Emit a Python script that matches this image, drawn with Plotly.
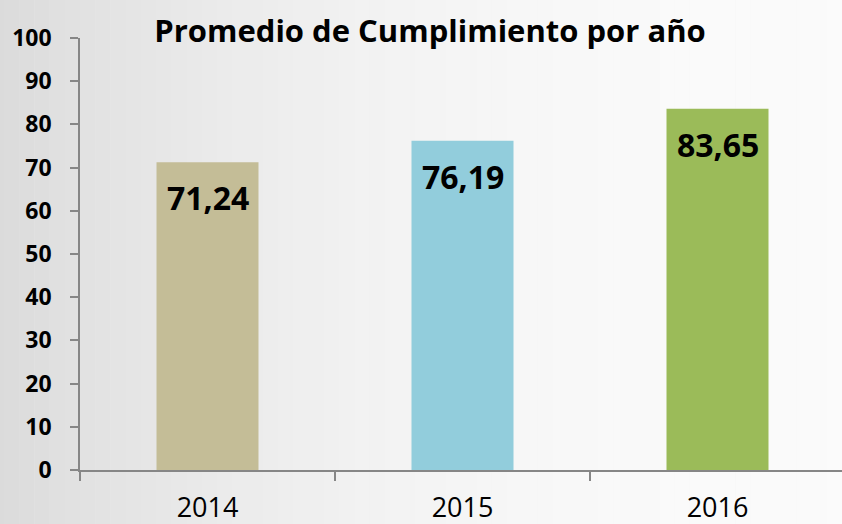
import plotly.graph_objects as go

years = ['2014', '2015', '2016']
values = [71.24, 76.19, 83.65]
bar_colors = ['#c4bd97', '#92cddc', '#9bbb59']
y_ticks = [0, 10, 20, 30, 40, 50, 60, 70, 80, 90, 100]

FONT = 'Open Sans'
AXIS_CLR = '#868686'

fig = go.Figure()

fig.add_trace(go.Bar(
    x=years, y=values,
    width=0.4,
    marker=dict(color=bar_colors, line=dict(width=0)),
    hoverinfo='x+y'))

# value labels sit inside the bars, a bit below the top
for i, v in enumerate(values):
    fig.add_annotation(
        x=i, y=v, text=f'{v:.2f}'.replace('.', ','),
        yanchor='top', yshift=-12, showarrow=False,
        font=dict(family=FONT, size=32, color='black', weight='bold'))

# grey -> white background, drawn as thin strips
shapes = []
n = 60
for i in range(n):
    t = i / (n - 1)
    g = int(214 + (251 - 214) * (1 - (1 - t) ** 2.2))
    shapes.append(dict(
        type='rect', xref='paper', yref='paper', layer='below',
        x0=-0.2 + i * 1.2 / n, x1=-0.2 + (i + 1.02) * 1.2 / n,
        y0=-0.2, y1=1.2, line=dict(width=0),
        fillcolor=f'rgb({g},{g},{g})'))

fig.update_layout(
    width=842, height=524,
    margin=dict(l=80, r=0, t=38, b=54),
    paper_bgcolor='#f0f0f0',
    plot_bgcolor='rgba(0,0,0,0)',
    shapes=shapes,
    showlegend=False,
    title=dict(
        text='<b>Promedio de Cumplimiento por año</b>',
        x=430 / 842, xref='container', xanchor='center',
        y=1 - 31 / 524, yref='container', yanchor='middle',
        font=dict(family=FONT, size=31, color='black')),
    xaxis=dict(
        type='category',
        range=[-0.5, 762 / 255 - 0.5],
        automargin=False,
        showline=True, linecolor=AXIS_CLR, linewidth=1.5,
        ticks='outside', tickson='boundaries', ticklen=9,
        tickcolor=AXIS_CLR, tickwidth=1.5,
        ticklabelstandoff=13,
        tickfont=dict(family=FONT, size=27, color='black'),
        showgrid=False, zeroline=False),
    yaxis=dict(
        range=[0, 100],
        tickvals=y_ticks,
        automargin=False,
        showline=True, linecolor=AXIS_CLR, linewidth=1.5,
        ticks='outside', ticklen=8,
        tickcolor=AXIS_CLR, tickwidth=1.5,
        ticklabelstandoff=14,
        tickfont=dict(family=FONT, size=23, color='black', weight='bold'),
        showgrid=False, zeroline=False),
)

fig.write_html('out.html', config=dict(displayModeBar=False),
               post_script="document.body.style.margin='0';")
